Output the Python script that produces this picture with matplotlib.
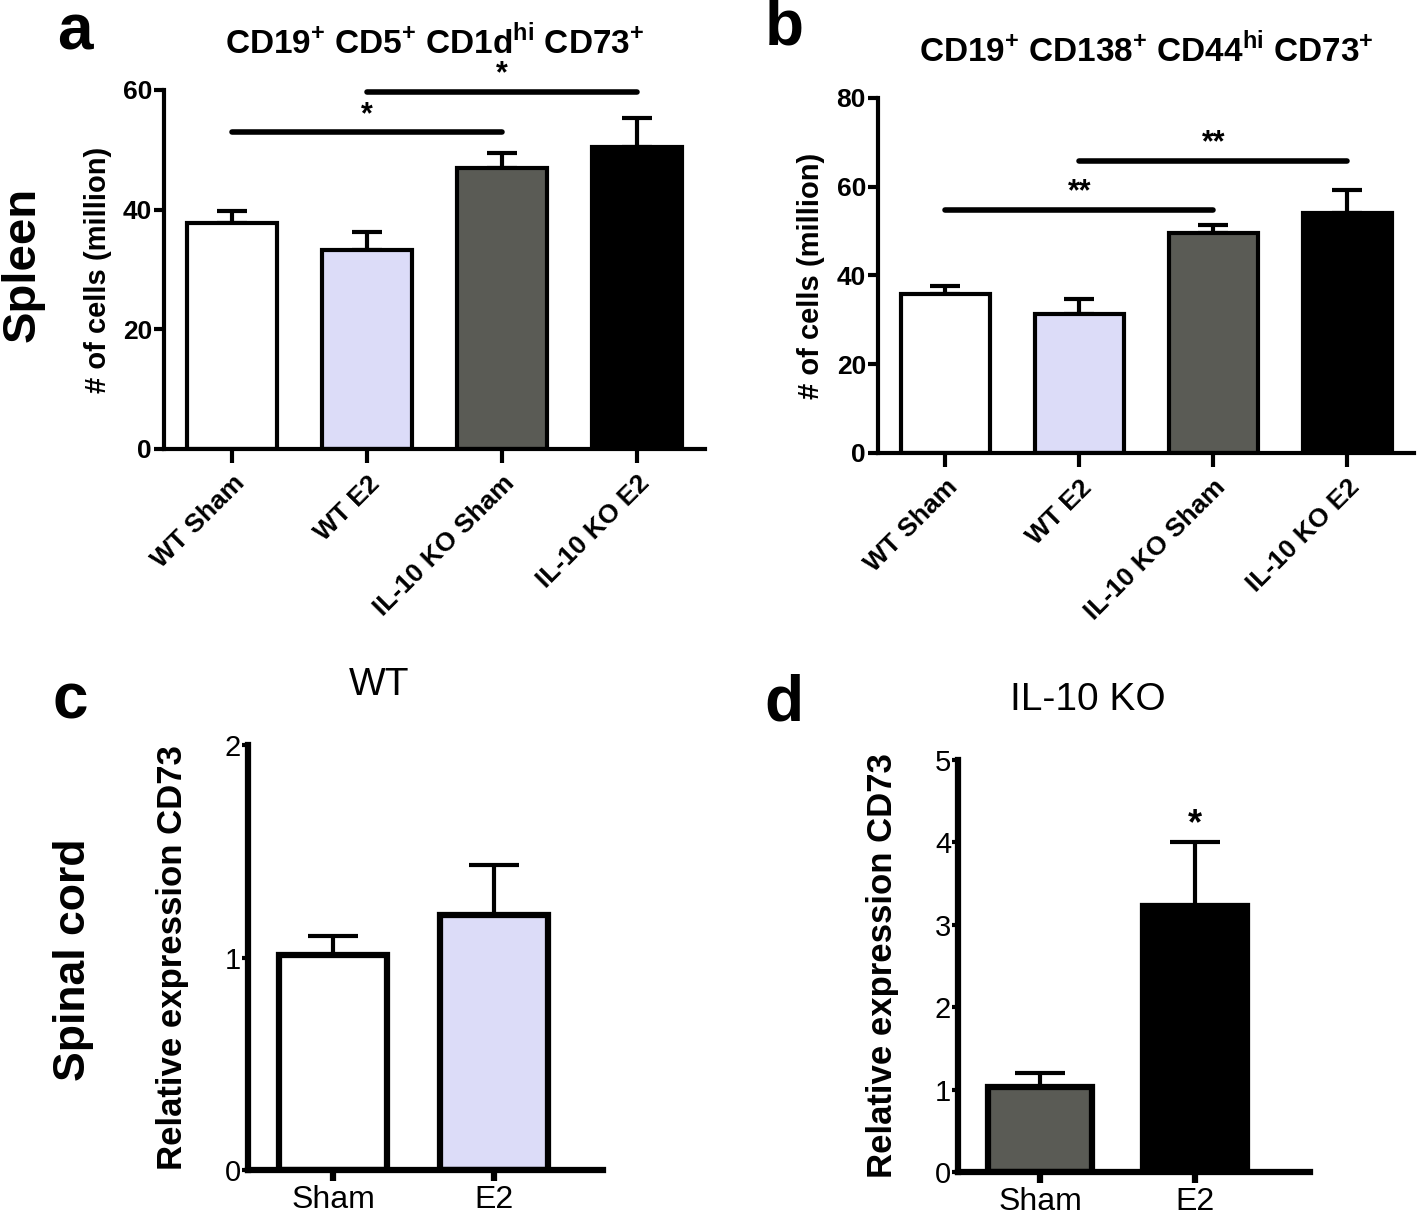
import matplotlib
matplotlib.use("Agg")
import matplotlib.pyplot as plt

plt.rcParams["font.family"] = ["Liberation Sans", "DejaVu Sans"]
plt.rcParams["mathtext.fontset"] = "custom"
plt.rcParams["mathtext.rm"] = "Liberation Sans"
plt.rcParams["mathtext.bf"] = "Liberation Sans:bold"

# spleen cell counts (million)
groups = ["WT Sham", "WT E2", "IL-10 KO Sham", "IL-10 KO E2"]
colors4 = ["#ffffff", "#dcdcf8", "#5a5b55", "#000000"]
breg_mean = [37.8, 33.2, 47.0, 50.4]
breg_err = [2.0, 3.1, 2.4, 4.9]
plasma_mean = [35.9, 31.4, 49.5, 54.0]
plasma_err = [1.7, 3.4, 1.8, 5.3]

# spinal cord relative expression
cord_groups = ["Sham", "E2"]
wt_mean = [1.01, 1.20]
wt_err = [0.09, 0.235]
ko_mean = [1.03, 3.23]
ko_err = [0.17, 0.77]

LW = 3.0


def spleen_panel(ax, mean, err, ymax, step, title, sig):
    x = range(len(groups))
    ax.bar(x, mean, width=0.67, color=colors4, edgecolor="black", linewidth=LW, zorder=2)
    ax.errorbar(x, mean, yerr=[[0] * len(err), err], fmt="none", ecolor="black",
                elinewidth=LW, capsize=11, capthick=LW, zorder=1)
    ax.set_xlim(-0.5, 3.5)
    ax.set_ylim(0, ymax)
    yt = list(range(0, ymax + 1, step))
    ax.set_yticks(yt, labels=[str(v) for v in yt], fontsize=19, fontweight="bold")
    ax.set_xticks(list(x), labels=groups, rotation=45, ha="right", rotation_mode="anchor",
                  fontsize=19, fontweight="bold")
    ax.spines[["top", "right"]].set_visible(False)
    ax.spines["left"].set_linewidth(LW)
    ax.spines["bottom"].set_linewidth(LW)
    ax.tick_params(axis="y", width=LW, length=7, pad=2)
    ax.tick_params(axis="x", width=LW, length=10, pad=6)
    ax.set_ylabel("# of cells (million)", fontsize=21, fontweight="bold", labelpad=8)
    ax.set_title(title, fontsize=24, fontweight="bold", pad=26)
    for x0, x1, y, s, ds in sig:
        ax.plot([x0, x1], [y, y], color="black", linewidth=4, clip_on=False,
                solid_capstyle="round")
        ax.text((x0 + x1) / 2, y + ds, s, ha="center", va="bottom",
                fontsize=22, fontweight="bold")


fig = plt.figure(figsize=(14.18, 12.15), dpi=100)

ax_a = fig.add_axes([0.116, 0.6305, 0.381, 0.2955])
spleen_panel(ax_a, breg_mean, breg_err, 60, 20,
             r"CD19$^{\mathbf{+}}$ CD5$^{\mathbf{+}}$ CD1d$^{\mathbf{hi}}$ CD73$^{\mathbf{+}}$",
             [(0, 2, 52.9, "*", 0.4), (1, 3, 59.7, "*", 0.4)])

ax_b = fig.add_axes([0.6195, 0.6272, 0.378, 0.2922])
spleen_panel(ax_b, plasma_mean, plasma_err, 80, 20,
             r"CD19$^{\mathbf{+}}$ CD138$^{\mathbf{+}}$ CD44$^{\mathbf{hi}}$ CD73$^{\mathbf{+}}$",
             [(0, 2, 54.7, "**", 0.6), (1, 3, 65.7, "**", 0.6)])


def cord_panel(ax, mean, err, cols, ymax, title, xlim_right, star=None):
    x = range(len(cord_groups))
    ax.bar(x, mean, width=0.67, color=cols, edgecolor="black", linewidth=4.5, zorder=2)
    ax.errorbar(x, mean, yerr=[[0] * len(err), err], fmt="none", ecolor="black",
                elinewidth=3, capsize=18, capthick=3, zorder=1)
    ax.set_xlim(-0.53, xlim_right)
    ax.set_ylim(0, ymax)
    yt = list(range(0, ymax + 1))
    ax.set_yticks(yt, labels=[str(v) for v in yt], fontsize=21)
    ax.set_xticks(list(x), labels=cord_groups, fontsize=23)
    ax.spines[["top", "right"]].set_visible(False)
    ax.spines["left"].set_linewidth(4.5)
    ax.spines["bottom"].set_linewidth(4.5)
    ax.tick_params(axis="y", width=3, length=4, pad=1)
    ax.tick_params(axis="x", width=4.5, length=8, pad=3)
    ax.set_ylabel("Relative expression CD73", fontsize=25, fontweight="bold", labelpad=26)
    ax.set_title(title, fontsize=28, x=0.37, pad=36)
    if star is not None:
        ax.text(1, star, "*", ha="center", va="bottom", fontsize=26, fontweight="bold")


ax_c = fig.add_axes([0.1749, 0.037, 0.2503, 0.3498])
cord_panel(ax_c, wt_mean, wt_err, ["#ffffff", "#dcdcf8"], 2, "WT", 1.68)

ax_d = fig.add_axes([0.6756, 0.0354, 0.248, 0.339])
cord_panel(ax_d, ko_mean, ko_err, ["#5a5b55", "#000000"], 5, "IL-10 KO", 1.74, star=4.0)

# panel letters and row labels
for letter, xf, yf in [("a", 0.040, 0.959), ("b", 0.539, 0.963),
                       ("c", 0.037, 0.409), ("d", 0.539, 0.407)]:
    fig.text(xf, yf, letter, fontsize=46, fontweight="bold", ha="left", va="baseline")
fig.text(0.016, 0.782, "Spleen", fontsize=34, fontweight="bold", rotation=90,
         ha="center", va="center")
fig.text(0.052, 0.21, "Spinal cord", fontsize=32, fontweight="bold", rotation=90,
         ha="center", va="center")

fig.savefig("out.png", dpi=100)
